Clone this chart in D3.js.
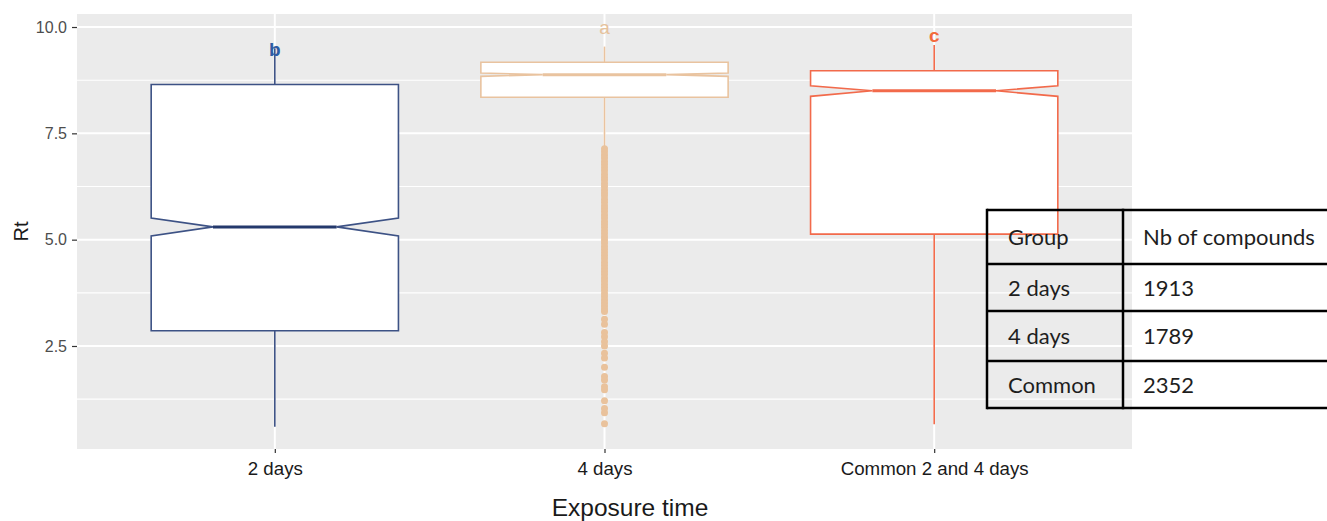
<!DOCTYPE html>
<html>
<head>
<meta charset="utf-8">
<script src="https://cdn.jsdelivr.net/npm/d3@7"></script>
<style>
  html, body { margin: 0; padding: 0; background: #ffffff; }
  svg { display: block; }
</style>
</head>
<body>
<svg id="chart" width="1327" height="521"></svg>
<script>
// ---- data ----
const categories = ["2 days", "4 days", "Common 2 and 4 days"];
const whiskerLow  = [0.60, 7.18, 0.66];
const q1          = [2.86, 8.35, 5.13];
const notchLow    = [5.09, 8.84, 8.37];
const median      = [5.30, 8.88, 8.50];
const notchHigh   = [5.51, 8.92, 8.62];
const q3          = [8.65, 9.17, 8.97];
const whiskerHigh = [9.50, 9.54, 9.58];
const groupLetters = ["b", "a", "c"];
const letterRt     = [9.32, 9.84, 9.65];
// Rt values lying beyond the lower whisker of the "4 days" group
const outliers4days = [
  7.14, 7.07, 6.99, 6.92, 6.84, 6.77, 6.69, 6.62, 6.54, 6.47, 6.40, 6.32,
  6.25, 6.17, 6.10, 6.03, 5.95, 5.88, 5.80, 5.73, 5.66, 5.58, 5.51, 5.43,
  5.36, 5.29, 5.21, 5.14, 5.06, 4.99, 4.92, 4.84, 4.77, 4.69, 4.62, 4.55,
  4.47, 4.40, 4.32, 4.25, 4.18, 4.10, 4.03, 3.95, 3.88, 3.81, 3.73, 3.66,
  3.58, 3.51, 3.44, 3.37, 3.31,
  3.13, 3.01, 2.82, 2.72, 2.60, 2.50, 2.33, 2.22, 2.00, 1.78, 1.70,
  1.54, 1.47, 1.21, 1.03, 0.93, 0.67
];
const yTicks = [2.5, 5.0, 7.5, 10.0];
const yMinorTicks = [1.25, 3.75, 6.25, 8.75];
const tableHeader = ["Group", "Nb of compounds"];
const tableGroups = ["2 days", "4 days", "Common"];
const tableCounts = [1913, 1789, 2352];

// ---- styling ----
const strokeColors = ["#3d5285", "#e9c39f", "#f26a4b"];
const letterColors = ["#2d5ca3", "#e6c29c", "#f36a3c"];
const letterWeights = ["bold", "normal", "bold"];

// ---- layout ----
const svg = d3.select("#chart");
const panel = { left: 77, right: 1132, top: 14, bottom: 449 };

const x = d3.scalePoint()
  .domain(categories)
  .range([panel.left, panel.right])
  .padding(0.6);
const y = d3.scaleLinear()
  .domain([0.078, 10.306])
  .range([panel.bottom, panel.top]);
const boxW = x.step() * 0.75;
const notchInset = boxW * 0.25;

// panel background
svg.append("rect")
  .attr("x", panel.left).attr("y", panel.top)
  .attr("width", panel.right - panel.left)
  .attr("height", panel.bottom - panel.top)
  .attr("fill", "#ebebeb");

// grid lines
const grid = svg.append("g");
grid.selectAll("line.minor").data(yMinorTicks).join("line")
  .attr("class", "minor")
  .attr("x1", panel.left).attr("x2", panel.right)
  .attr("y1", d => y(d)).attr("y2", d => y(d))
  .attr("stroke", "#ffffff").attr("stroke-width", 1.1);
grid.selectAll("line.majorY").data(yTicks).join("line")
  .attr("class", "majorY")
  .attr("x1", panel.left).attr("x2", panel.right)
  .attr("y1", d => y(d)).attr("y2", d => y(d))
  .attr("stroke", "#ffffff").attr("stroke-width", 2);
grid.selectAll("line.majorX").data(categories).join("line")
  .attr("class", "majorX")
  .attr("x1", d => x(d)).attr("x2", d => x(d))
  .attr("y1", panel.top).attr("y2", panel.bottom)
  .attr("stroke", "#ffffff").attr("stroke-width", 2);

// box plots
const boxes = categories.map((c, i) => ({
  cat: c, i,
  wl: whiskerLow[i], q1: q1[i], nl: notchLow[i], med: median[i],
  nh: notchHigh[i], q3: q3[i], wh: whiskerHigh[i]
}));

const gBoxes = svg.append("g");
boxes.forEach(b => {
  const cx = x(b.cat);
  const x0 = cx - boxW / 2, x1 = cx + boxW / 2;
  const g = gBoxes.append("g");
  const col = strokeColors[b.i];

  // whiskers
  g.append("line")
    .attr("x1", cx).attr("x2", cx)
    .attr("y1", y(b.q3)).attr("y2", y(b.wh))
    .attr("stroke", col).attr("stroke-width", 1.6);
  g.append("line")
    .attr("x1", cx).attr("x2", cx)
    .attr("y1", y(b.q1)).attr("y2", y(b.wl))
    .attr("stroke", col).attr("stroke-width", 1.6);

  // notched box
  const pts = [
    [x0, y(b.q3)], [x1, y(b.q3)], [x1, y(b.nh)],
    [x1 - notchInset, y(b.med)], [x1, y(b.nl)], [x1, y(b.q1)],
    [x0, y(b.q1)], [x0, y(b.nl)], [x0 + notchInset, y(b.med)],
    [x0, y(b.nh)]
  ];
  g.append("path")
    .attr("d", d3.line()(pts) + "Z")
    .attr("fill", "#ffffff")
    .attr("stroke", col).attr("stroke-width", 1.6)
    .attr("stroke-linejoin", "miter");

  // median
  g.append("line")
    .attr("x1", x0 + notchInset).attr("x2", x1 - notchInset)
    .attr("y1", y(b.med)).attr("y2", y(b.med))
    .attr("stroke", b.i === 0 ? "#24396c" : col)
    .attr("stroke-width", 3);
});

// outlying points of the 4 days group
svg.append("g").selectAll("circle").data(outliers4days).join("circle")
  .attr("cx", x(categories[1]))
  .attr("cy", d => y(d))
  .attr("r", 3.5)
  .attr("fill", "#e9c29c");

// significance letters
svg.append("g").selectAll("text").data(groupLetters).join("text")
  .attr("x", (d, i) => x(categories[i]))
  .attr("y", (d, i) => y(letterRt[i]))
  .attr("text-anchor", "middle")
  .attr("font-family", "Liberation Sans, Arial, sans-serif")
  .attr("font-size", 19)
  .attr("font-weight", (d, i) => letterWeights[i])
  .attr("fill", (d, i) => letterColors[i])
  .text(d => d);

// axes
const yAxis = svg.append("g")
  .attr("transform", `translate(${panel.left},0)`)
  .call(d3.axisLeft(y).tickValues(yTicks).tickFormat(d3.format(".1f"))
    .tickSize(5).tickPadding(5));
yAxis.select(".domain").remove();
yAxis.selectAll(".tick line").attr("stroke", "#333333").attr("stroke-width", 1.2);
yAxis.selectAll(".tick text")
  .attr("font-family", "Liberation Sans, Arial, sans-serif")
  .attr("font-size", 16)
  .attr("fill", "#4d4d4d");

const xAxis = svg.append("g")
  .attr("transform", `translate(0,${panel.bottom})`)
  .call(d3.axisBottom(x).tickSize(4).tickPadding(9));
xAxis.select(".domain").remove();
xAxis.selectAll(".tick line").attr("stroke", "#333333").attr("stroke-width", 1.2);
xAxis.selectAll(".tick text")
  .attr("font-family", "Liberation Sans, Arial, sans-serif")
  .attr("font-size", 18.7)
  .attr("fill", "#1a1a1a");

// axis titles
svg.append("text")
  .attr("transform", `translate(28,${(panel.top + panel.bottom) / 2}) rotate(-90)`)
  .attr("text-anchor", "middle")
  .attr("font-family", "Liberation Sans, Arial, sans-serif")
  .attr("font-size", 20)
  .attr("fill", "#1a1a1a")
  .text("Rt");
svg.append("text")
  .attr("x", 630).attr("y", 516)
  .attr("text-anchor", "middle")
  .attr("font-family", "Liberation Sans, Arial, sans-serif")
  .attr("font-size", 24.5)
  .attr("fill", "#1a1a1a")
  .text("Exposure time");

// compound count table
const tbl = { left: 987, right: 1340, mid: 1123, rows: [210, 264, 311, 361, 408] };
const gT = svg.append("g");
const tableRows = [tableHeader].concat(tableGroups.map((g, i) => [g, String(tableCounts[i])]));
tableRows.forEach((row, r) => {
  const cy = (tbl.rows[r] + tbl.rows[r + 1]) / 2 + 8;
  [tbl.left + 21, tbl.mid + 20].forEach((tx, c) => {
    gT.append("text")
      .attr("x", tx).attr("y", cy)
      .attr("font-family", "Lato, 'Open Sans', sans-serif")
      .attr("font-size", 22)
      .attr("fill", "#1e1e1e")
      .text(row[c]);
  });
});
tbl.rows.forEach(ry => {
  gT.append("line")
    .attr("x1", tbl.left).attr("x2", tbl.right)
    .attr("y1", ry).attr("y2", ry)
    .attr("stroke", "#000").attr("stroke-width", 2.5);
});
[tbl.left, tbl.mid].forEach(vx => {
  gT.append("line")
    .attr("x1", vx).attr("x2", vx)
    .attr("y1", tbl.rows[0] - 1.25).attr("y2", tbl.rows[tbl.rows.length - 1] + 1.25)
    .attr("stroke", "#000").attr("stroke-width", 2.5);
});
</script>
</body>
</html>
